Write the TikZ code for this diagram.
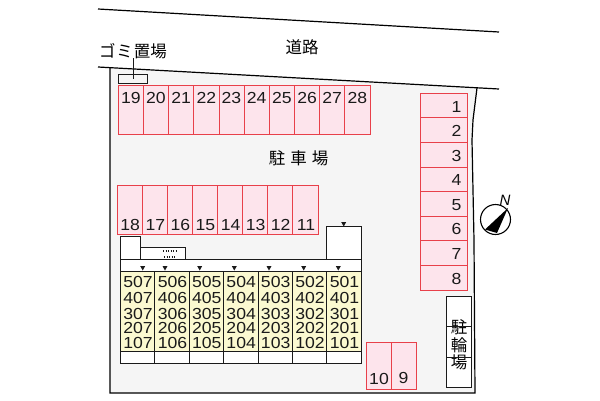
\documentclass[tikz,border=0pt]{standalone}
\usepackage{fontspec}
\setmainfont{Liberation Sans}
\newfontfamily\jpfont{Noto Sans CJK JP}
\newfontfamily\widenum[FakeStretch=1.1]{Liberation Sans}
\definecolor{sitegray}{HTML}{F5F5F5}
\definecolor{stallpink}{HTML}{FDE4EC}
\definecolor{stallred}{HTML}{E8404A}
\definecolor{unityellow}{HTML}{FBF9D0}
\definecolor{inkc}{HTML}{1A1A1A}
\tikzset{
  stallbox/.style={draw=stallred,fill=stallpink,line width=1pt},
  bldg/.style={draw=inkc,fill=white,line width=1pt},
  unitcell/.style={draw=inkc,fill=unityellow,line width=1pt},
  num/.style={inner sep=0pt,font=\widenum\fontsize{16}{16}\selectfont,text=inkc},
  unum/.style={inner sep=0pt,font=\widenum\fontsize{16}{16}\selectfont,text=inkc},
  jp/.style={inner sep=0pt,font=\jpfont\fontsize{16.5}{16.5}\selectfont,text=black},
  tick/.style={fill=inkc,draw=none},
  border/.style={draw=black,line width=1.2pt}
}
\begin{document}
\begin{tikzpicture}[x=1pt,y=-1pt]
\useasboundingbox (0,0) rectangle (600,400);
% site
\fill[sitegray] (110,68) -- (477,88) -- (473,120) -- (472,140) -- (474,240) -- (475,393) -- (110,393) -- cycle;
\draw[border] (98,9) -- (499,32);
\draw[border] (98,67) -- (499,89);
\draw[border] (110,68) -- (110,393) -- (475,393) -- (474,240) -- (472,140) -- (473,120) -- (477,88);
% road and refuse
\node[jp] (road) at (302,47) {道路};
\node[jp] (gomi) at (133,51) {ゴ\hspace{1pt}ミ\hspace{1pt}置場};
\draw[draw=inkc,fill=sitegray,line width=1pt] (118.5,74.5) rectangle (147.5,83);
\draw[inkc,line width=0.8pt] (133,58) -- (133,79);
\node[jp] (lot) at (298.5,158) {駐\hspace{5pt}車\hspace{5pt}場};
% top row
\foreach \a/\b/\t in {118.3/143.3/19,143.3/168.7/20,168.7/193.7/21,193.7/219/22,219/244/23,244/269.3/24,269.3/294.7/25,294.7/319.7/26,319.7/344.7/27,344.7/370/28}{
  \draw[stallbox] (\a,85.5) rectangle (\b,134);
  \node[num] (s\t) at ({(\a+\b)/2},97.5) {\t};
}
% second row
\foreach \a/\b/\t in {117/142.3/18,142.3/167.3/17,167.3/192.3/16,192.3/217.7/15,217.7/242.7/14,242.7/267.7/13,267.7/292.7/12,292.7/318.3/11}{
  \draw[stallbox] (\a,185.5) rectangle (\b,234);
  \node[num] (s\t) at ({(\a+\b)/2+0.5},225) {\t};
}
% right column
\foreach \a/\b/\t in {93.5/117.7/1,117.7/142.3/2,142.3/167/3,167/191.7/4,191.7/216.3/5,216.3/240.3/6,240.3/265/7,265/290/8}{
  \draw[stallbox] (420.3,\a) rectangle (467.3,\b);
  \node[num] (s\t) at (456.5,{(\a+\b)/2+1}) {\t};
}
% bottom
\draw[stallbox] (366.7,342.5) rectangle (391.3,389.3);
\draw[stallbox] (391.3,342.5) rectangle (416,389.3);
\node[num] (s10) at (379,379) {10};
\node[num] (s9) at (403.5,377.5) {9};
% bicycle
\draw[bldg] (446.7,296.5) rectangle (471,387.5);
\node[jp] (b1) at (459,327) {駐};
\node[jp] (b2) at (459,345) {輪};
\node[jp] (b3) at (459,362) {場};
\draw[inkc,line width=0.8pt] (446.7,326.7) -- (471,326.7);
\draw[inkc,line width=0.8pt] (446.7,357.7) -- (471,357.7);
% building
\draw[bldg] (120.3,236.5) rectangle (140.7,259.5);
\draw[bldg] (140.7,247.5) rectangle (185.7,259.5);
\draw[bldg] (326.7,226.5) rectangle (361.3,259.5);
\draw[bldg] (120.3,259.5) rectangle (361.3,271.5);
\foreach \a/\b/\c/\d/\e/\f/\g in {120.3/154.7/507/407/307/207/107,154.7/189.3/506/406/306/206/106,189.3/223.3/505/405/305/205/105,223.3/258/504/404/304/204/104,258/292.3/503/403/303/203/103,292.3/326.7/502/402/302/202/102,326.7/361.3/501/401/301/201/101}{
  \draw[unitcell] (\a,271.5) rectangle (\b,351.5);
  \draw[bldg] (\a,351.5) rectangle (\b,363.5);
  \node[unum] (u\c) at ({(\a+\b)/2+0.5},282) {\c};
  \node[unum] (u\d) at ({(\a+\b)/2+0.5},298) {\d};
  \node[unum] (u\e) at ({(\a+\b)/2+0.5},313.5) {\e};
  \node[unum] (u\f) at ({(\a+\b)/2+0.5},328) {\f};
  \node[unum] (u\g) at ({(\a+\b)/2+0.5},342.5) {\g};
}
\foreach \x in {142.7,165,199.7,234.3,269,303.7,338.3}{
  \fill[tick] (\x-2.5,266) -- (\x+2.5,266) -- (\x,270.5) -- cycle;
}
\fill[tick] (341.2,222) -- (346.2,222) -- (343.7,226.5) -- cycle;
\draw[inkc,line width=2pt,dash pattern=on 1.3pt off 1.2pt] (163,250.5) -- (176,250.5);
\draw[inkc,line width=2pt,dash pattern=on 1.3pt off 1.2pt] (164,257) -- (176,257);
% compass
\draw[black,line width=1.1pt,fill=white] (495.5,219.5) circle (15);
\fill[black] (508,208) -- (485,229.5) -- (497,233) -- cycle;
\node[inner sep=0pt,font=\fontsize{15}{15}\selectfont\itshape] (north) at (505,200.5) {N};
\end{tikzpicture}
\end{document}
